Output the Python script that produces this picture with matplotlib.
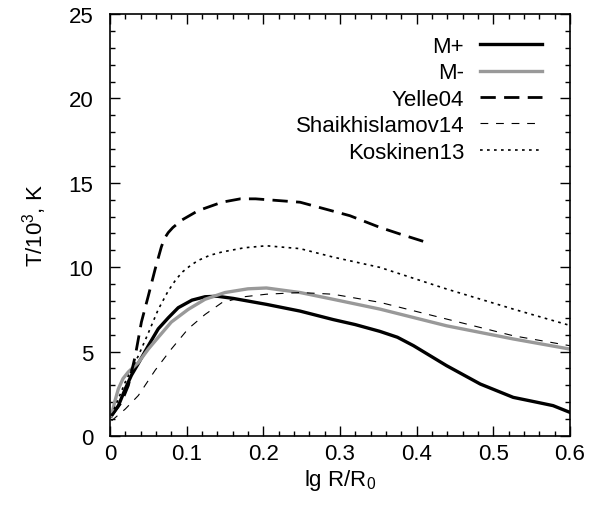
import matplotlib
matplotlib.use('Agg')
import matplotlib.pyplot as plt
from matplotlib.ticker import MultipleLocator

plt.rcParams['font.family'] = ['Liberation Sans', 'DejaVu Sans']
plt.rcParams['mathtext.fontset'] = 'custom'
plt.rcParams['mathtext.rm'] = 'Liberation Sans'
plt.rcParams['mathtext.it'] = 'Liberation Sans'

# M+
mp_x = [0.002, 0.011, 0.02, 0.028, 0.037, 0.05, 0.063, 0.076, 0.089, 0.107, 0.124, 0.14,
        0.161, 0.204, 0.248, 0.291, 0.32, 0.352, 0.375, 0.396, 0.439, 0.483, 0.526, 0.557,
        0.578, 0.6]
mp_y = [1.2, 1.8, 2.8, 3.6, 4.3, 5.35, 6.35, 7.0, 7.6, 8.05, 8.25, 8.28,
        8.15, 7.8, 7.4, 6.9, 6.6, 6.2, 5.85, 5.35, 4.17, 3.08, 2.29, 2.0,
        1.8, 1.4]

# M-
mm_x = [0.002, 0.006, 0.011, 0.017, 0.024, 0.037, 0.05, 0.063, 0.08, 0.102, 0.124, 0.15,
        0.18, 0.204, 0.248, 0.291, 0.352, 0.439, 0.526, 0.6]
mm_y = [1.2, 2.0, 2.8, 3.4, 3.8, 4.35, 5.15, 5.85, 6.75, 7.5, 8.1, 8.5,
        8.72, 8.77, 8.5, 8.1, 7.52, 6.53, 5.75, 5.15]

# Yelle04
ye_x = [0.002, 0.015, 0.024, 0.033, 0.041, 0.05, 0.059, 0.067, 0.071, 0.076, 0.082, 0.094,
        0.115, 0.146, 0.17, 0.19, 0.248, 0.313, 0.352, 0.378, 0.413]
ye_y = [1.2, 2.0, 3.0, 4.75, 6.75, 8.3, 9.9, 11.2, 11.7, 12.05, 12.35, 12.8,
        13.35, 13.85, 14.05, 14.05, 13.85, 13.05, 12.36, 11.97, 11.47]

# Shaikhislamov14
sh_x = [0.002, 0.02, 0.037, 0.059, 0.08, 0.102, 0.124, 0.146, 0.175, 0.204, 0.248, 0.291,
        0.352, 0.439, 0.526, 0.6]
sh_y = [0.9, 1.6, 2.4, 3.9, 5.15, 6.35, 7.2, 7.9, 8.25, 8.4, 8.5, 8.4,
        7.92, 6.93, 5.94, 5.35]

# Koskinen13
ko_x = [0.002, 0.01, 0.02, 0.037, 0.05, 0.063, 0.076, 0.085, 0.094, 0.105, 0.115, 0.13,
        0.146, 0.175, 0.204, 0.248, 0.291, 0.352, 0.439, 0.526, 0.6]
ko_y = [1.2, 2.1, 3.2, 4.75, 6.1, 7.5, 8.6, 9.2, 9.7, 10.1, 10.4, 10.7,
        10.9, 11.15, 11.27, 11.1, 10.6, 9.99, 8.71, 7.52, 6.55]

fig = plt.figure(figsize=(5.9, 5.1), dpi=100)
ax = fig.add_axes([0.1864, 0.1431, 0.7796, 0.8275])

ax.plot(mp_x, mp_y, color='black', lw=2.4, label='M+')
ax.plot(mm_x, mm_y, color='#999999', lw=2.4, label='M-')
ax.plot(ye_x, ye_y, color='black', lw=2.0, dashes=(5.5, 3), label='Yelle04')
ax.plot(sh_x, sh_y, color='black', lw=0.8, dashes=(7, 7), label='Shaikhislamov14')
ax.plot(ko_x, ko_y, color='black', lw=1.2, dashes=(1.6, 2.6), label='Koskinen13')

ax.set_xlim(0, 0.6)
ax.set_ylim(0, 25)
ax.xaxis.set_major_locator(MultipleLocator(0.1))
ax.xaxis.set_minor_locator(MultipleLocator(0.02))
ax.yaxis.set_major_locator(MultipleLocator(5))
ax.yaxis.set_minor_locator(MultipleLocator(1))
ax.set_xticks([0, 0.1, 0.2, 0.3, 0.4, 0.5, 0.6])
ax.set_xticklabels(['0', '0.1', '0.2', '0.3', '0.4', '0.5', '0.6'])
ax.tick_params(which='both', direction='in', top=True, right=True, labelsize=16, width=1)
ax.tick_params(which='major', length=7)
ax.tick_params(which='minor', length=3.5)
ax.tick_params(axis='x', which='major', pad=5)
ax.tick_params(axis='y', which='major', pad=12)
for s in ax.spines.values():
    s.set_linewidth(1.2)

ax.set_xlabel('lg R/R$_0$', fontsize=16, labelpad=2)
ax.set_ylabel('T/10$^3$, K', fontsize=16, labelpad=14)

ax.legend(loc='upper right', frameon=False, markerfirst=False, fontsize=16,
          handlelength=2.8, handletextpad=0.7, labelspacing=0.245,
          borderpad=0, borderaxespad=0, bbox_to_anchor=(0.939, 0.948))

fig.savefig('out.png', dpi=100)
